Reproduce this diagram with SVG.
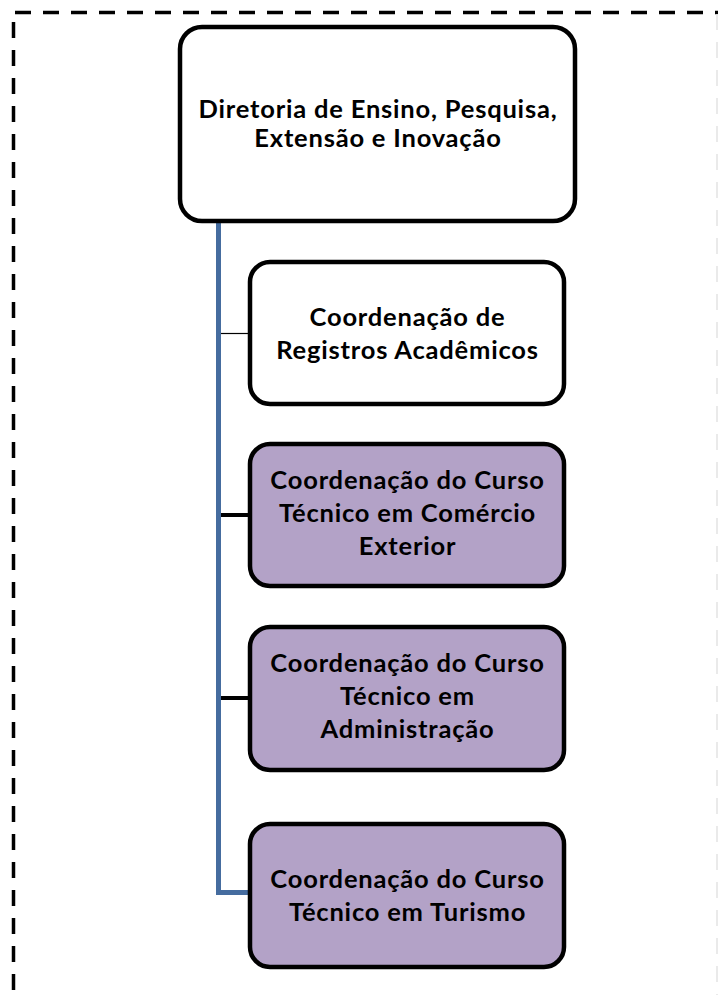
<svg xmlns="http://www.w3.org/2000/svg" width="718" height="995" viewBox="0 0 718 995">
<style>
.box{stroke:#000;stroke-width:4.5}
.white{fill:#fff}
.purple{fill:#b3a2c7}
.t{font-family:Lato,"Liberation Sans",sans-serif;font-weight:bold;font-size:25.5px;letter-spacing:0.8px;fill:#000;text-anchor:middle}
.border{fill:none;stroke:#000;stroke-width:3.5;stroke-dasharray:16 12}
</style>
<rect width="718" height="995" fill="#fff"/>
<g id="border">
<line class="border" x1="15" y1="12.5" x2="718" y2="12.5"/>
<line class="border" x1="13.5" y1="22" x2="13.5" y2="995"/>
<line x1="717" y1="14" x2="717" y2="995" stroke="#e4e4e4" stroke-width="1.5" stroke-dasharray="16 12"/>
</g>
<g id="connectors">
<path d="M218.5 223 V892.5 H248" fill="none" stroke="#456c9f" stroke-width="5"/>
<line x1="221" y1="333.5" x2="249" y2="333.5" stroke="#000" stroke-width="1.2"/>
<line x1="221" y1="515" x2="249" y2="515" stroke="#000" stroke-width="4"/>
<line x1="221" y1="698" x2="249" y2="698" stroke="#000" stroke-width="4"/>
</g>
<g id="n0">
<rect class="box white" x="180" y="27" width="395" height="194" rx="22"/>
<text class="t" x="378" y="118">Diretoria de Ensino, Pesquisa,</text>
<text class="t" x="378" y="147">Extensão e Inovação</text>
</g>
<g id="n1">
<rect class="box white" x="250" y="262" width="314" height="142" rx="20"/>
<text class="t" x="407.5" y="326">Coordenação de</text>
<text class="t" x="407.5" y="359">Registros Acadêmicos</text>
</g>
<g id="n2">
<rect class="box purple" x="250" y="444" width="314" height="142" rx="20"/>
<text class="t" x="407.5" y="489">Coordenação do Curso</text>
<text class="t" x="407.5" y="522">Técnico em Comércio</text>
<text class="t" x="407.5" y="555">Exterior</text>
</g>
<g id="n3">
<rect class="box purple" x="250" y="627" width="314" height="143" rx="20"/>
<text class="t" x="407.5" y="672">Coordenação do Curso</text>
<text class="t" x="407.5" y="705">Técnico em</text>
<text class="t" x="407.5" y="738">Administração</text>
</g>
<g id="n4">
<rect class="box purple" x="250" y="824" width="314" height="143" rx="20"/>
<text class="t" x="407.5" y="888">Coordenação do Curso</text>
<text class="t" x="407.5" y="921">Técnico em Turismo</text>
</g>
</svg>
